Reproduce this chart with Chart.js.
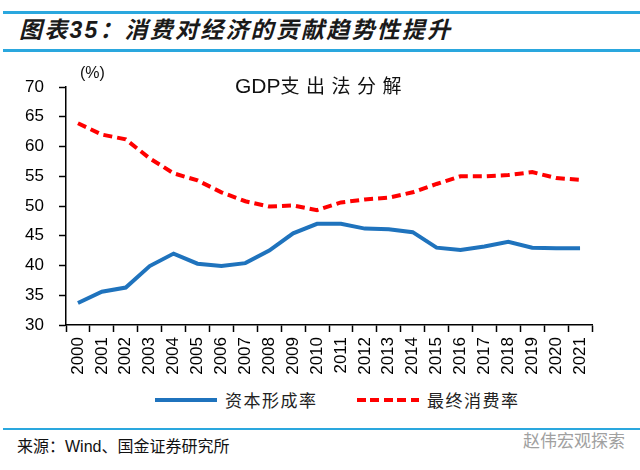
<!DOCTYPE html>
<html>
<head>
<meta charset="utf-8">
<script src="https://cdn.jsdelivr.net/npm/chart.js@4"></script>
<style>
  body { margin: 0; width: 640px; height: 470px; background: #fff; position: relative; overflow: hidden;
         font-family: "Liberation Sans", "Noto Sans CJK SC", sans-serif; }
  .rule { position: absolute; left: 3px; right: 0; height: 3px; background: #2aa7de; }
  #head { position: absolute; left: 19px; top: 15px; font-size: 23px; line-height: 30px; font-weight: bold; font-style: italic; color: #1a1a1a; letter-spacing: 2.2px; }
  #wrap { position: absolute; left: 0; top: 50px; width: 640px; height: 336px; }
  #ctitle { position: absolute; left: 235px; top: 72px; font-size: 21px; line-height: 26px; color: #111; }
  #ctitle span { font-family: "Noto Sans CJK SC"; font-size: 19px; letter-spacing: 6.5px; }
  #unit { position: absolute; left: 80px; top: 64px; font-size: 16px; color: #111; }
  #legend { position: absolute; top: 389px; left: 0; width: 640px; height: 22px; font-family: "Noto Sans CJK SC"; font-size: 17px; color: #222; }
  .item { position: absolute; top: 0; line-height: 22px; letter-spacing: 1.5px; }
  .swatch { position: absolute; top: 9px; width: 62px; height: 4px; }
  #src { position: absolute; left: 17px; top: 436px; font-size: 16px; line-height: 22px; color: #111; }
  #wm { position: absolute; left: 523px; top: 430px; font-size: 17px; line-height: 24px; color: #a0a0a0; }
</style>
</head>
<body>
<div class="rule" style="top:11px"></div>
<div id="head">图表35：消费对经济的贡献趋势性提升</div>
<div class="rule" style="top:49px"></div>
<div id="wrap"><canvas id="c"></canvas></div>
<div id="unit">(%)</div>
<div id="ctitle">GDP<span>支出法分解</span></div>
<div id="legend">
  <div class="swatch" style="left:155px; background:#1f73bd"></div>
  <div class="item" style="left:225px">资本形成率</div>
  <div class="swatch" style="left:357px; background:repeating-linear-gradient(90deg, #ff0000 0 9px, transparent 9px 13.5px)"></div>
  <div class="item" style="left:427px">最终消费率</div>
</div>
<div class="rule" style="top:428px; height:2px"></div>
<div id="src">来源：Wind、国金证券研究所</div>
<div id="wm">赵伟宏观探索</div>
<script>
// ========== data ==========
const years = ['2000', '2001', '2002', '2003', '2004', '2005', '2006', '2007', '2008', '2009', '2010',
  '2011', '2012', '2013', '2014', '2015', '2016', '2017', '2018', '2019', '2020', '2021'];
const capitalRate = [33.7, 35.6, 36.3, 39.9, 42.0, 40.3, 39.9, 40.4, 42.5, 45.4, 47.0,
  47.0, 46.2, 46.1, 45.6, 43.0, 42.6, 43.2, 44.0, 43.0, 42.9, 42.9];
const consumeRate = [63.9, 62.0, 61.2, 58.0, 55.5, 54.3, 52.3, 50.8, 49.9, 50.1, 49.3,
  50.6, 51.1, 51.4, 52.3, 53.7, 55.0, 55.0, 55.2, 55.7, 54.7, 54.4];
const yMin = 30, yMax = 70, yStep = 5;

// ========== chart ==========
const ctx = document.getElementById('c').getContext('2d');
new Chart(ctx, {
  type: 'line',
  data: {
    labels: years,
    datasets: [
      { label: '资本形成率', data: capitalRate, borderColor: '#1f73bd', borderWidth: 4,
        pointRadius: 0, tension: 0 },
      { label: '最终消费率', data: consumeRate, borderColor: '#ff0000', borderWidth: 4,
        borderDash: [9, 5], pointRadius: 0, tension: 0 }
    ]
  },
  options: {
    responsive: true,
    maintainAspectRatio: false,
    animation: false,
    layout: { padding: { left: 0, right: 48, top: 37, bottom: 1 } },
    plugins: {
      tooltip: { enabled: false },
      legend: { display: false }
    },
    scales: {
      x: {
        offset: true,
        afterFit: s => { s.height = 60; },
        grid: { offset: true, drawOnChartArea: false, tickLength: 7, color: '#000', tickWidth: 1.5 },
        border: { color: '#000', width: 1.5 },
        ticks: { color: '#000', font: { size: 17, family: 'Liberation Sans' }, minRotation: 90, maxRotation: 90, padding: 5 }
      },
      y: {
        min: yMin, max: yMax,
        afterFit: s => { s.width = 66; },
        grid: { drawOnChartArea: false, tickLength: 7, color: '#000', tickWidth: 1.5 },
        border: { color: '#000', width: 1.5 },
        ticks: { stepSize: yStep, color: '#000', font: { size: 17, family: 'Liberation Sans' }, padding: 15 }
      }
    }
  }
});
</script>
</body>
</html>
